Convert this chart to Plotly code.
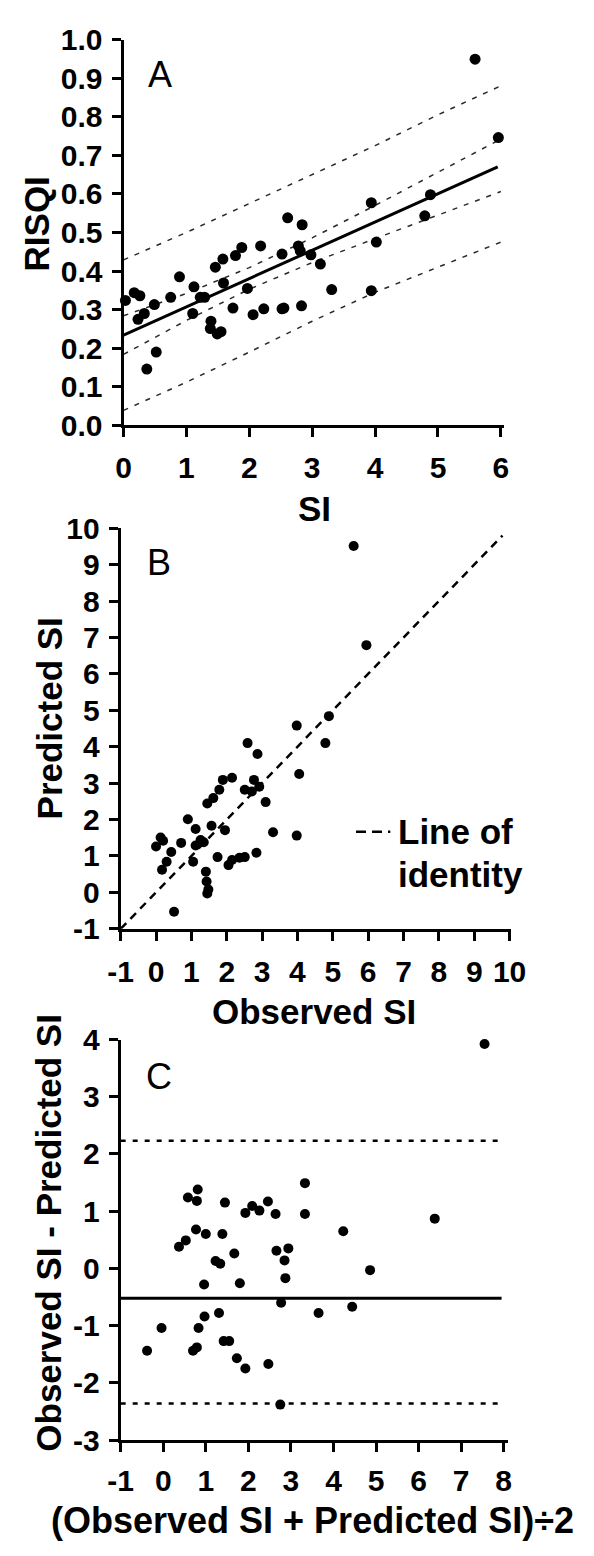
import plotly.graph_objects as go

W, H = 594, 1556

# ---------------- Panel A data ----------------
a_si = [0.03, 0.17, 0.26, 0.23, 0.33, 0.37, 0.49, 0.52, 0.75, 0.89, 1.12, 1.10, 1.22, 1.29,
        1.38, 1.39, 1.49, 1.55, 1.46, 1.58, 1.59, 1.74, 1.78, 1.88, 1.97, 2.06, 2.18, 2.23,
        2.52, 2.55, 2.52, 2.61, 2.78, 2.81, 2.84, 2.83, 2.98, 3.13, 3.31, 3.94, 3.94, 4.02,
        4.79, 4.88, 5.59, 5.96]
a_risqi = [0.324, 0.344, 0.336, 0.275, 0.290, 0.146, 0.313, 0.190, 0.332, 0.385, 0.359, 0.290,
           0.332, 0.332, 0.251, 0.270, 0.237, 0.243, 0.410, 0.431, 0.369, 0.304, 0.440, 0.461,
           0.355, 0.287, 0.465, 0.302, 0.302, 0.304, 0.444, 0.538, 0.465, 0.452, 0.520, 0.310,
           0.442, 0.418, 0.352, 0.577, 0.349, 0.475, 0.543, 0.598, 0.949, 0.746]
fit_x = [0.0, 5.95]
fit_y = [0.234, 0.670]
band_x = [0, 1, 2, 3, 4, 5, 6]
inner_upper = [0.284, 0.342, 0.409, 0.486, 0.570, 0.656, 0.742]
inner_lower = [0.184, 0.272, 0.353, 0.422, 0.484, 0.546, 0.606]
outer_upper = [0.429, 0.500, 0.575, 0.650, 0.725, 0.805, 0.880]
outer_lower = [0.039, 0.112, 0.190, 0.270, 0.345, 0.410, 0.475]
a_yticks = [0.0, 0.1, 0.2, 0.3, 0.4, 0.5, 0.6, 0.7, 0.8, 0.9, 1.0]
a_yticktext = ["0.0", "0.1", "0.2", "0.3", "0.4", "0.5", "0.6", "0.7", "0.8", "0.9", "1.0"]
a_xticks = [0, 1, 2, 3, 4, 5, 6]

# ---------------- Panel B data ----------------
b_obs = [5.59, 5.95, 4.89, 4.79, 3.98, 4.05, 3.98, 3.31, 3.10, 2.59, 2.87, 2.77, 2.92, 2.51,
         2.71, 2.84, 2.51, 2.36, 2.15, 2.05, 1.74, 2.15, 1.89, 1.79, 1.62, 1.45, 1.57, 1.95,
         1.12, 0.90, 0.71, 1.26, 1.12, 1.05, 1.41, 1.43, 1.48, 1.45, 0.51, 0.43, 0.00, 0.13,
         0.20, 0.30, 0.17, 1.35]
b_pred = [9.51, 6.79, 4.84, 4.10, 4.58, 3.25, 1.56, 1.65, 2.48, 4.10, 3.80, 3.09, 2.90, 2.82,
          2.77, 1.09, 0.97, 0.95, 0.89, 0.75, 0.97, 3.15, 3.09, 2.82, 2.59, 2.44, 1.83, 1.71,
          1.74, 2.01, 1.36, 1.44, 1.29, 0.84, 0.57, 0.30, 0.08, -0.03, -0.53, 1.11, 1.26, 1.51,
          1.42, 0.84, 0.62, 1.38]
identity_x = [-1, 9.8]
identity_y = [-1, 9.8]
b_ticks = [-1, 0, 1, 2, 3, 4, 5, 6, 7, 8, 9, 10]
b_ticktext = ["-1", "0", "1", "2", "3", "4", "5", "6", "7", "8", "9", "10"]

# ---------------- Panel C data ----------------
c_mean = [7.55, 6.38, 4.86, 4.23, 4.44, 3.65, 3.33, 3.33, 2.94, 2.85, 2.87, 2.66, 2.77, 2.75,
          2.64, 2.46, 2.47, 2.26, 2.09, 1.93, 1.93, 1.73, 1.80, 1.67, 1.45, 1.39, 1.34, 1.23,
          1.31, 1.42, 1.55, 1.00, 0.96, 0.97, 0.83, 0.79, 0.70, 0.77, 0.58, 0.79, 0.81, 0.53,
          0.37, -0.04, -0.38]
c_diff = [3.92, 0.87, -0.03, 0.65, -0.67, -0.78, 1.49, 0.95, 0.35, 0.14, -0.17, 0.31, -0.60,
          -2.38, 0.95, 1.17, -1.67, 1.01, 1.09, 0.97, -1.75, -1.57, -0.26, 0.26, 1.15, 0.60,
          0.08, 0.13, -0.78, -1.27, -1.27, 0.60, -0.28, -0.84, -1.04, -1.38, -1.44, 0.68, 1.24,
          1.18, 1.38, 0.49, 0.38, -1.04, -1.44]
bias = -0.52
upper_loa = 2.23
lower_loa = -2.36
c_line_x = [-1, 7.95]
c_xticks = [-1, 0, 1, 2, 3, 4, 5, 6, 7, 8]
c_xticktext = ["-1", "0", "1", "2", "3", "4", "5", "6", "7", "8"]
c_yticks = [-3, -2, -1, 0, 1, 2, 3, 4]
c_yticktext = ["-3", "-2", "-1", "0", "1", "2", "3", "4"]

FONT = "Liberation Sans, Arial, sans-serif"


def px(x):
    return x / W


def py(y):
    return 1 - y / H


fig = go.Figure()

band_line = dict(color="#2a2a2a", width=1.5, dash="5px,7px")
# Panel A
for band in (outer_upper, outer_lower, inner_upper, inner_lower):
    fig.add_trace(go.Scatter(x=band_x, y=band, mode="lines", xaxis="x", yaxis="y",
                             line=band_line, showlegend=False))
fig.add_trace(go.Scatter(x=fit_x, y=fit_y, mode="lines", xaxis="x", yaxis="y",
                         line=dict(color="black", width=3), showlegend=False))
fig.add_trace(go.Scatter(x=a_si, y=a_risqi, mode="markers", xaxis="x", yaxis="y", cliponaxis=False,
                         marker=dict(color="black", size=11, symbol="circle"), showlegend=False))

# Panel B
fig.add_trace(go.Scatter(x=identity_x, y=identity_y, mode="lines", xaxis="x2", yaxis="y2",
                         line=dict(color="black", width=2.5, dash="8px,6px"), showlegend=False))
fig.add_trace(go.Scatter(x=b_obs, y=b_pred, mode="markers", xaxis="x2", yaxis="y2", cliponaxis=False,
                         marker=dict(color="black", size=10, symbol="circle"), showlegend=False))

# Panel C
fig.add_trace(go.Scatter(x=c_line_x, y=[upper_loa, upper_loa], mode="lines", xaxis="x3", yaxis="y3",
                         line=dict(color="black", width=2.5, dash="5px,7px"), showlegend=False))
fig.add_trace(go.Scatter(x=c_line_x, y=[lower_loa, lower_loa], mode="lines", xaxis="x3", yaxis="y3",
                         line=dict(color="black", width=2.5, dash="5px,7px"), showlegend=False))
fig.add_trace(go.Scatter(x=c_line_x, y=[bias, bias], mode="lines", xaxis="x3", yaxis="y3",
                         line=dict(color="black", width=3), showlegend=False))
fig.add_trace(go.Scatter(x=c_mean, y=c_diff, mode="markers", xaxis="x3", yaxis="y3", cliponaxis=False,
                         marker=dict(color="black", size=10, symbol="circle"), showlegend=False))

tickfont = dict(family=FONT, size=30, color="black", weight="bold")
axis_common = dict(showline=True, linecolor="black", linewidth=3, ticks="outside", ticklen=9,
                   tickwidth=2.5, tickcolor="black", showgrid=False, zeroline=False,
                   tickfont=tickfont, fixedrange=True)

fig.update_layout(
    width=W, height=H,
    margin=dict(l=0, r=0, t=0, b=0),
    paper_bgcolor="white", plot_bgcolor="white",
    showlegend=False,
    xaxis=dict(domain=[px(116), px(515.3)], range=[0, 6.05], anchor="y",
               tickvals=a_xticks, ticklabelstandoff=5, **axis_common),
    yaxis=dict(domain=[py(418), py(24)], range=[0, 1], anchor="x",
               tickvals=a_yticks, ticktext=a_yticktext, ticklabelstandoff=3, **axis_common),
    xaxis2=dict(domain=[px(113), px(523)], range=[-1, 10.05], anchor="y2",
                tickvals=b_ticks, ticktext=b_ticktext, ticklabelstandoff=5, **axis_common),
    yaxis2=dict(domain=[py(932), py(523)], range=[-1, 10], anchor="x2",
                tickvals=b_ticks, ticktext=b_ticktext, ticklabelstandoff=3, **axis_common),
    xaxis3=dict(domain=[px(113), px(519)], range=[-1, 8.09], anchor="y3",
                tickvals=c_xticks, ticktext=c_xticktext, ticklabelstandoff=3, **axis_common),
    yaxis3=dict(domain=[py(1454), py(1045)], range=[-3, 4], anchor="x3",
                tickvals=c_yticks, ticktext=c_yticktext, ticklabelstandoff=3, **axis_common),
)

title_font = dict(family=FONT, size=35, color="black", weight="bold")
letter_font = dict(family=FONT, size=36, color="black")


def ann(text, x, y, font, angle=0, xanchor="center"):
    fig.add_annotation(text=text, x=px(x), y=py(y), xref="paper", yref="paper",
                       showarrow=False, font=font, textangle=angle, xanchor=xanchor,
                       yanchor="middle", borderpad=0)


ann("A", 154, 60, letter_font)
ann("RISQI", 25, 212, title_font, angle=-90)
ann("SI", 316, 503, title_font)

ann("B", 153, 558, letter_font)
ann("Predicted SI", 38, 717, title_font, angle=-90)
ann("Observed SI", 316, 1016, title_font)
ann("Line of", 403, 833, title_font, xanchor="left")
ann("identity", 403, 877, title_font, xanchor="left")
fig.add_shape(type="line", xref="paper", yref="paper", x0=px(360), x1=px(396), y0=py(833), y1=py(833),
              line=dict(color="black", width=2.5, dash="10px,6px"))

ann("C", 153, 1083, letter_font)
ann("Observed SI - Predicted SI", 37, 1242, title_font, angle=-90)
ann("(Observed SI + Predicted SI)\u00f72",
    314, 1536, dict(family=FONT, size=36, color="black", weight="bold"))

fig.write_html("out.html")
